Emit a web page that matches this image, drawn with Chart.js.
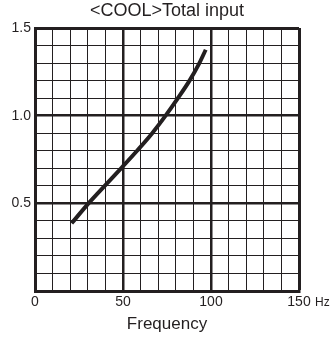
<!DOCTYPE html>
<html><head><meta charset="utf-8">
<script src="https://cdn.jsdelivr.net/npm/chart.js@4/dist/chart.umd.min.js"></script>
<style>html,body{margin:0;padding:0;background:#fff}#wrap{width:333px;height:338px}</style>
</head><body><div id="wrap"><canvas id="c" width="333" height="338"></canvas></div>
<script>
const frequency = [20.8, 30.4, 39.6, 48.9, 58, 66.6, 74.2, 81.2, 87.8, 93.4, 97];
const totalInput = [0.386, 0.5, 0.6, 0.7, 0.8, 0.9, 1.0, 1.1, 1.2, 1.3, 1.376];
const xTickLabels = [0, 50, 100, 150];
const yTickLabels = [0.5, 1.0, 1.5];
const titleText = '<COOL>Total input';
const xTitle = 'Frequency';
const xUnit = 'Hz';

const FONT = 'Arial, "Liberation Sans", sans-serif';
const ink = '#231f20';

function near(v, arr, eps){ return arr.some(a => Math.abs(a - v) < eps); }

const textPlugin = {
  id: 'extraText',
  afterDraw(chart){
    const x = chart.scales.x, a = chart.chartArea, ctx = chart.ctx;
    ctx.save();
    ctx.fillStyle = ink;
    ctx.textBaseline = 'middle';
    ctx.textAlign = 'center';
    ctx.font = '18px ' + FONT;
    ctx.fillText(titleText, (a.left + a.right) / 2, 11);
    ctx.textAlign = 'left';
    ctx.font = '12px ' + FONT;
    ctx.fillText(xUnit, x.getPixelForValue(150) + 16, x.top + 12);
    ctx.restore();
  }
};

new Chart(document.getElementById('c'), {
  type: 'line',
  data: {
    datasets: [{
      data: frequency.map((f, i) => ({x: f, y: totalInput[i]})),
      borderColor: ink,
      borderWidth: 4,
      pointRadius: 0,
      cubicInterpolationMode: 'monotone',
      fill: false
    }]
  },
  options: {
    responsive: false,
    animation: false,
    layout: {padding: {left: 0, right: 34, top: 28, bottom: 0}},
    plugins: {
      legend: {display: false},
      tooltip: {enabled: false},
      title: {display: false}
    },
    scales: {
      x: {
        type: 'linear', min: 0, max: 150,
        afterFit(s){ s.height = 47; },
        ticks: {stepSize: 10, autoSkip: false, maxRotation: 0, padding: 3, color: ink,
          font: {family: FONT, size: 14},
          callback: v => near(v, xTickLabels, 0.01) ? String(v) : ''},
        grid: {drawTicks: false, color: ink,
          lineWidth: c => (c.tick.value === 150 ? 3 : (c.tick.value % 50 === 0 ? 2.5 : 1))},
        border: {width: 3, color: ink},
        title: {display: true, text: xTitle, color: ink,
          font: {family: FONT, size: 17}, padding: {top: 0, bottom: 3}}
      },
      y: {
        type: 'linear', min: 0, max: 1.5,
        afterFit(s){ s.width = 35; },
        ticks: {stepSize: 0.1, autoSkip: false, padding: 4, color: ink,
          font: {family: FONT, size: 14},
          callback: v => near(v, yTickLabels, 0.001) ? v.toFixed(1) : ''},
        grid: {drawTicks: false, color: ink,
          lineWidth: c => {
            const v = c.tick.value;
            if (Math.abs(v - 1.5) < 0.001) return 3;
            return near(v, yTickLabels, 0.001) ? 2.5 : 1;
          }},
        border: {width: 3, color: ink}
      }
    }
  },
  plugins: [textPlugin]
});
</script>
</body></html>
